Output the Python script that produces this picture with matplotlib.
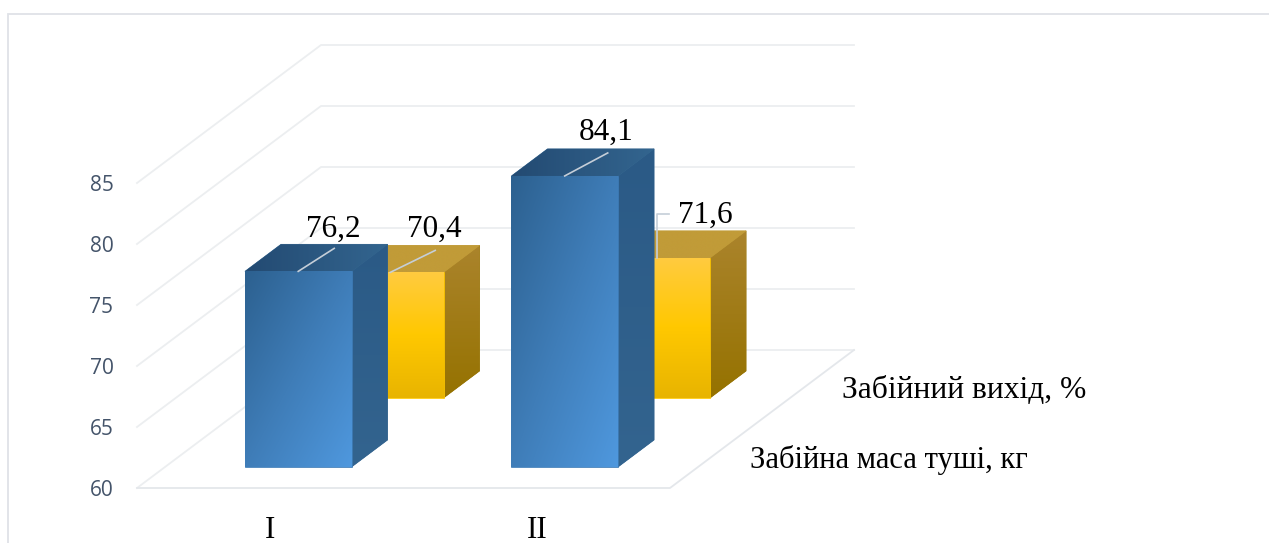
import numpy as np
import matplotlib
matplotlib.use("Agg")
import matplotlib.pyplot as plt
from matplotlib.colors import to_rgb
from matplotlib.patches import Polygon, Rectangle

# data
groups = ["I", "II"]
series_names = ["Забійна маса туші, кг", "Забійний вихід, %"]
carcass_mass = [76.2, 84.1]
slaughter_yield = [70.4, 71.6]
value_ticks = [60, 65, 70, 75, 80, 85]
value_labels = ["76,2", "84,1", "70,4", "71,6"]

# fake 3d geometry, shift of the back wall in axis units
W, H = 1269, 543
DEPTH_X = 184 / 266.5
DEPTH_Y = 138 / 12.2
BAR_W = 0.4
BAR_SCALE = 0.99  # bars stand a little in from the front plane
BASE = 60
GRID = "#ECEEF0"
LEADER = "#C5CED8"


def proj(x, d, v):
    return x + d * DEPTH_X, v + d * DEPTH_Y


def bar_top(v):
    return BASE + (v - BASE) * BAR_SCALE


def gradient_face(ax, corners, stops, angle, z):
    # fill a polygon with a linear gradient through the given colours
    corners = np.array(corners)
    xs, ys = corners[:, 0], corners[:, 1]
    mid = stops[len(stops) // 2]
    ax.add_patch(Polygon(corners, closed=True, fc=mid, ec=mid, lw=0.5, zorder=z, clip_on=False))
    n = 200
    gx, gy = np.meshgrid(np.linspace(0, 1, n), np.linspace(0, 1, n))
    t = (gx * angle[0] + gy * angle[1]) / (angle[0] + angle[1])
    cols = np.array([to_rgb(c) for c in stops])
    pos = np.linspace(0, 1, len(stops))
    img = np.dstack([np.interp(t, pos, cols[:, i]) for i in range(3)])
    im = ax.imshow(img, extent=(xs.min(), xs.max(), ys.min(), ys.max()),
                   aspect="auto", zorder=z, origin="upper")
    im.set_clip_box(fig.bbox)
    im.set_clip_path(Polygon(corners, closed=True, transform=ax.transData))


def bar3d(ax, x, d0, d1, v, front, side, top, z):
    l, r = x - BAR_W / 2, x + BAR_W / 2
    v = bar_top(v)
    gradient_face(ax, [proj(r, d0, BASE), proj(r, d1, BASE), proj(r, d1, v), proj(r, d0, v)],
                  side[0], side[1], z)
    gradient_face(ax, [proj(l, d0, v), proj(r, d0, v), proj(r, d1, v), proj(l, d1, v)],
                  top[0], top[1], z)
    gradient_face(ax, [proj(l, d0, BASE), proj(r, d0, BASE), proj(r, d0, v), proj(l, d0, v)],
                  front[0], front[1], z)


plt.rcParams["font.family"] = ["Liberation Serif", "DejaVu Serif"]

fig = plt.figure(figsize=(W / 100, H / 100), dpi=100)
fig.patch.set_facecolor("white")
ax = fig.add_axes([137 / W, (H - 488) / H, 533 / W, 305 / H])
ax.patch.set_alpha(0)
for s in ax.spines.values():
    s.set_visible(False)

# outer frame runs off the right and bottom of the picture
fig.add_artist(Rectangle((7.5 / W, -0.1), 1.2, (H - 13.5) / H + 0.1, transform=fig.transFigure,
                         fill=False, ec="#DFE2E7", lw=1.3))

# gridlines on side wall and back wall
for v in value_ticks:
    x0, y0 = proj(0, 0, v)
    x1, y1 = proj(0, 1, v)
    x2, y2 = proj(2, 1, v)
    ax.plot([x0, x1, x2], [y0, y1, y2], color=GRID, lw=1.3, clip_on=False, zorder=1)
# floor
ax.plot([0, 2, proj(2, 1, BASE)[0]], [BASE, BASE, proj(2, 1, BASE)[1]],
        color="#E4E7EB", lw=1.3, clip_on=False, zorder=1)

blue = dict(front=(["#2C608F", "#3F7DB8", "#4F98DE"], (1, 1)),
            side=(["#2B5A86", "#33648F"], (0, 1)),
            top=(["#234A72", "#33658F"], (1, 0)))
yellow = dict(front=(["#FFCB40", "#FFC800", "#E8B400"], (0, 1)),
              side=(["#AB842C", "#957200"], (0, 1)),
              top=(["#C19B38", "#C19B38"], (0, 1)))

centers = [0.5, 1.5]
for c, v in zip(centers, slaughter_yield):
    bar3d(ax, c, 0.652, 0.848, v, z=3, **yellow)
for c, v in zip(centers, carcass_mass):
    bar3d(ax, c, 0.152, 0.348, v, z=4, **blue)

ax.set_xlim(0, 2)
ax.set_ylim(60, 85)

# value labels with leader lines, offsets in pixels from the front top edge
tops = [proj(c, 0.152, bar_top(v)) for c, v in zip(centers, carcass_mass)] + \
       [proj(c, 0.652, bar_top(v)) for c, v in zip(centers, slaughter_yield)]
leaders = [[(0, 0), (36, 23)], [(0, 0), (43, 23)], [(0, 0), (45, 22)], [(0, 0), (0, 44), (12, 44)]]
text_off = [(35, 42), (41, 44), (44, 43), (49, 43)]
for xy, txt, pts, off in zip(tops, value_labels, leaders, text_off):
    a = ax.transData.transform(xy)
    seg = ax.transData.inverted().transform(a + np.array(pts))
    ax.plot(seg[:, 0], seg[:, 1], color=LEADER, lw=1.2, clip_on=False, zorder=6)
    ax.annotate(txt, xy=xy, xytext=off, textcoords="offset pixels", ha="center", va="center",
                fontsize=22.5, color="black", zorder=7, annotation_clip=False)

# series names on the depth axis
for name, d, fs in zip(series_names, [0.25, 0.75], [22.1, 22.7]):
    ax.annotate(name, xy=proj(2, d, BASE), xytext=(34, -6.5), textcoords="offset pixels",
                ha="left", va="center", fontsize=fs, color="black", annotation_clip=False)

ax.set_xticks(centers)
ax.set_xticklabels(groups, fontsize=22.5, color="black")
ax.set_yticks(value_ticks)
ax.set_yticklabels([str(v) for v in value_ticks], fontsize=15, color="#44546A",
                   family=["Open Sans", "DejaVu Sans"])
ax.tick_params(axis="both", length=0)
ax.tick_params(axis="x", pad=20)
ax.tick_params(axis="y", pad=17)

fig.savefig("out.png", dpi=100)
